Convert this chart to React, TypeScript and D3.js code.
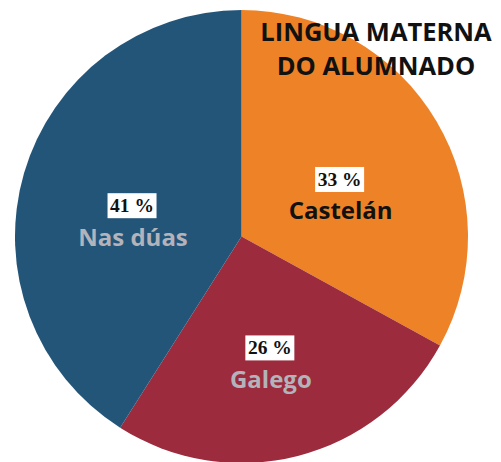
import React from "react";
import * as d3 from "d3";

const categories = ["Castelán", "Galego", "Nas dúas"];
const values = [33, 26, 41];
const colors = ["#EE8226", "#9B2B3D", "#235579"];
const labelColors = ["#111111", "#B3B3BB", "#B3B3BB"];
const titleLines = ["LINGUA MATERNA", "DO ALUMNADO"];

const W = 501;
const H = 462;
const cx = 241.5;
const cy = 236.5;
const R = 226.5;

export default function App() {
  const pie = d3.pie<number>().sort(null).value((d) => d);
  const arcs = pie(values);
  const arc = d3.arc<d3.PieArcDatum<number>>().innerRadius(0).outerRadius(R);
  const labelArc = d3.arc<d3.PieArcDatum<number>>().innerRadius(114).outerRadius(114);

  return (
    <svg
      width={W}
      height={H}
      style={{ position: "absolute", left: 0, top: 0, display: "block", background: "#fff" }}
    >
      <g transform={`translate(${cx},${cy})`}>
        {arcs.map((a, i) => (
          <path key={i} d={arc(a) || ""} fill={colors[i]} />
        ))}
        {arcs.map((a, i) => {
          const [x, y] = labelArc.centroid(a);
          return (
            <g key={"l" + i} transform={`translate(${x},${y + 1})`}>
              <rect x={-24.5} y={-12.5} width={49} height={25} fill="#fff" />
              <text
                x={0}
                y={6.5}
                textAnchor="middle"
                fontFamily="'Liberation Serif', 'Times New Roman', serif"
                fontWeight="bold"
                fontSize={19.5}
                fill="#111"
              >
                {values[i]} %
              </text>
              <text
                x={1}
                y={40}
                textAnchor="middle"
                fontFamily="'Open Sans', sans-serif"
                fontWeight="bold"
                fontSize={24}
                fill={labelColors[i]}
              >
                {categories[i]}
              </text>
            </g>
          );
        })}
      </g>
      {titleLines.map((t, i) => (
        <text
          key={"t" + i}
          x={376}
          y={41 + i * 34}
          textAnchor="middle"
          fontFamily="'Open Sans', sans-serif"
          fontWeight="bold"
          fontSize={25.5}
          fill="#111"
        >
          {t}
        </text>
      ))}
    </svg>
  );
}
